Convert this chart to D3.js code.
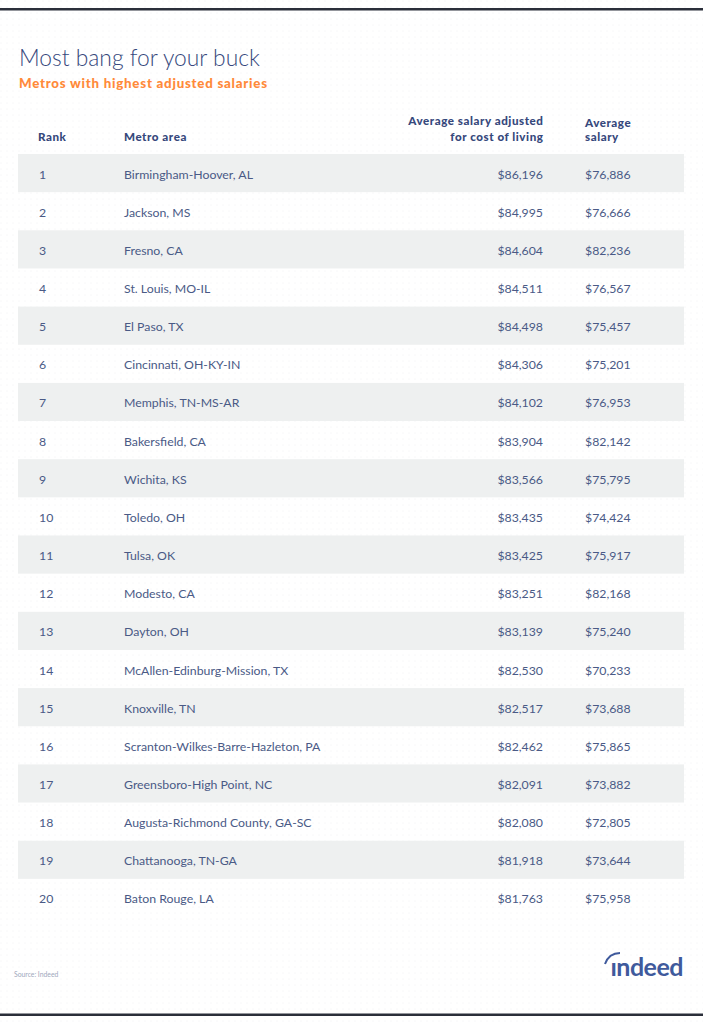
<!DOCTYPE html>
<html><head><meta charset="utf-8">
<script src="https://cdn.jsdelivr.net/npm/d3@7"></script>
<style>
html,body{margin:0;padding:0;background:#fff;}
svg{display:block;}
</style></head>
<body>
<script>
const ranks = [1,2,3,4,5,6,7,8,9,10,11,12,13,14,15,16,17,18,19,20];
const metros = ["Birmingham-Hoover, AL","Jackson, MS","Fresno, CA","St. Louis, MO-IL","El Paso, TX","Cincinnati, OH-KY-IN","Memphis, TN-MS-AR","Bakersfield, CA","Wichita, KS","Toledo, OH","Tulsa, OK","Modesto, CA","Dayton, OH","McAllen-Edinburg-Mission, TX","Knoxville, TN","Scranton-Wilkes-Barre-Hazleton, PA","Greensboro-High Point, NC","Augusta-Richmond County, GA-SC","Chattanooga, TN-GA","Baton Rouge, LA"];
const adjustedSalary = [86196,84995,84604,84511,84498,84306,84102,83904,83566,83435,83425,83251,83139,82530,82517,82462,82091,82080,81918,81763];
const averageSalary = [76886,76666,82236,76567,75457,75201,76953,82142,75795,74424,75917,82168,75240,70233,73688,75865,73882,72805,73644,75958];
const headers = {rank:["Rank"], metro:["Metro area"], adj:["Average salary adjusted","for cost of living"], avg:["Average","salary"]};

const W = 703, H = 1024;
const navy = "#36487c", textCol = "#4a5a86", orange = "#ff8a3a";
const font = "Lato, 'Open Sans', sans-serif";

const svg = d3.select("body").append("svg").attr("width", W).attr("height", H);

// dotted background pattern
const defs = svg.append("defs");
const pat = defs.append("pattern").attr("id","dots").attr("width",6).attr("height",6).attr("patternUnits","userSpaceOnUse");
pat.append("rect").attr("width",6).attr("height",6).attr("fill","#fff");
pat.append("circle").attr("cx",1).attr("cy",1).attr("r",0.5).attr("fill","#eef0f2");
svg.append("rect").attr("width",W).attr("height",H).attr("fill","url(#dots)");

// borders
svg.append("rect").attr("x",0).attr("y",8).attr("width",W).attr("height",2.5).attr("fill","#2b2f3a");
svg.append("rect").attr("x",0).attr("y",1013.5).attr("width",W).attr("height",2.5).attr("fill","#2b2f3a");

// title
svg.append("text").attr("x",19).attr("y",66).attr("font-family",font).attr("font-size",22.8)
  .attr("font-weight",300).attr("fill",navy).text("Most bang for your buck");
svg.append("text").attr("x",19).attr("y",88).attr("font-family",font).attr("font-size",13.3)
  .attr("font-weight",900).attr("fill",orange).attr("letter-spacing",0.75).text("Metros with highest adjusted salaries");

// row scale
const y = d3.scaleBand().domain(ranks).range([155, 155 + 38.15*20]).paddingInner(0);
const x = {rank:38, metro:124, adjRight:543, avg:585, bandL:18, bandR:684};

const rows = svg.append("g").selectAll("g").data(ranks.map((r,i)=>({r,i}))).join("g")
  .attr("transform", d=>`translate(0,${y(d.r)})`);
rows.filter(d=>d.i%2===0).append("rect").attr("x",x.bandL).attr("y",-1).attr("width",x.bandR-x.bandL)
  .attr("height",y.bandwidth()).attr("fill","#eef0f0");
const fmt = d3.format("$,");
const base = y.bandwidth()/2 + 4.5;
const tstyle = s => s.attr("font-family",font).attr("font-size",12.3).attr("fill",textCol).attr("y",base);
rows.append("text").attr("x",x.rank+1).text(d=>d.r).call(tstyle);
rows.append("text").attr("x",x.metro).text(d=>metros[d.i]).call(tstyle);
rows.append("text").attr("x",x.adjRight).attr("text-anchor","end").text(d=>fmt(adjustedSalary[d.i])).call(tstyle);
rows.append("text").attr("x",x.avg).text(d=>fmt(averageSalary[d.i])).call(tstyle);

// headers
const hstyle = s => s.attr("font-family",font).attr("font-size",11.6).attr("font-weight",900).attr("letter-spacing",0.55).attr("fill",navy);
svg.append("text").attr("x",x.rank).attr("y",141).text(headers.rank[0]).call(hstyle);
svg.append("text").attr("x",x.metro).attr("y",141).text(headers.metro[0]).call(hstyle);
headers.adj.forEach((t,i)=>svg.append("text").attr("x",x.adjRight+0.5).attr("y",125+16*i).attr("text-anchor","end").text(t).call(hstyle));
headers.avg.forEach((t,i)=>svg.append("text").attr("x",x.avg).attr("y",127+14*i).text(t).call(hstyle));

// footer
svg.append("text").attr("x",14).attr("y",977).attr("font-family",font).attr("font-size",6.8).attr("fill","#a0a8bc").text("Source: Indeed");
const logo = svg.append("g");
logo.append("text").attr("x",683).attr("y",976).attr("text-anchor","end").attr("font-family",font)
  .attr("font-size",25).attr("font-weight",700).attr("letter-spacing",-0.5).attr("fill","#3f5a9c").text("ındeed");
logo.append("path").attr("d","M605,964 Q609,953 620,953").attr("fill","none").attr("stroke","#3f5a9c").attr("stroke-width",2);
</script>
</body></html>
